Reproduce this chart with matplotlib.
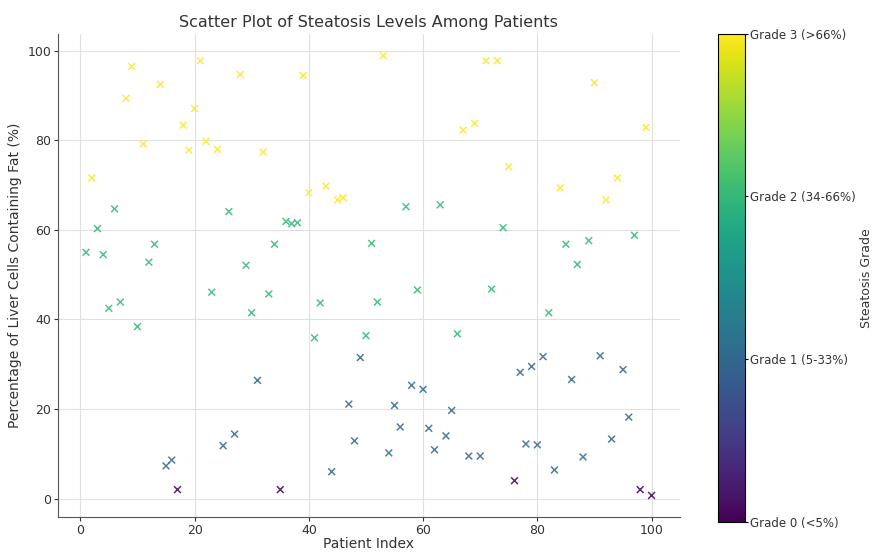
import numpy as np
import matplotlib
matplotlib.use('Agg')
import matplotlib.pyplot as plt

# Patient index 1..100 and fat percentage
patient_index = list(range(1, 101))
fat_percentage = [
    55.0, 71.6, 60.3, 54.5, 42.5, 64.7, 43.9, 89.4, 96.5, 38.4,
    79.2, 52.8, 56.8, 92.5, 7.3, 8.6, 2.0, 83.4, 77.8, 87.1,
    97.8, 79.8, 46.1, 78.0, 11.8, 64.1, 14.4, 94.7, 52.1, 41.5,
    26.4, 77.4, 45.7, 56.8, 2.0, 61.9, 61.4, 61.6, 94.5, 68.3,
    35.9, 43.7, 69.8, 6.0, 66.7, 67.2, 21.1, 12.9, 31.5, 36.4,
    57.0, 43.9, 98.9, 10.2, 20.8, 16.0, 65.2, 25.3, 46.6, 24.4,
    15.7, 10.9, 65.6, 14.0, 19.7, 36.8, 82.3, 9.5, 83.8, 9.5,
    97.8, 46.8, 97.8, 60.5, 74.1, 4.0, 28.2, 12.2, 29.5, 12.0,
    31.7, 41.5, 6.4, 69.4, 56.8, 26.6, 52.3, 9.3, 57.6, 92.9,
    31.9, 66.7, 13.3, 71.6, 28.8, 18.2, 58.8, 2.0, 82.9, 0.7,
]
grade_labels = ['Grade 0 (<5%)', 'Grade 1 (5-33%)', 'Grade 2 (34-66%)', 'Grade 3 (>66%)']

# Grade for each patient
grades = []
for v in fat_percentage:
    if v < 5:
        grades.append(0)
    elif v <= 33:
        grades.append(1)
    elif v <= 66:
        grades.append(2)
    else:
        grades.append(3)

text_col = '#333333'
plt.rcParams['font.size'] = 9

fig = plt.figure(figsize=(8.75, 5.54), dpi=100)
ax = fig.add_axes([0.066, 0.066, 0.711, 0.873])
cax = fig.add_axes([0.821, 0.058, 0.030, 0.881])

sc = ax.scatter(patient_index, fat_percentage, c=grades, cmap='viridis',
                vmin=0, vmax=3, marker='x', s=24, linewidths=1.1, alpha=0.85)
ax.grid(True, color='#e0e0e0', linewidth=0.8)
ax.set_axisbelow(True)
ax.spines['top'].set_visible(False)
ax.spines['right'].set_visible(False)
ax.spines['left'].set_color('#555555')
ax.spines['bottom'].set_color('#555555')
ax.tick_params(colors=text_col, length=3, pad=1.5, labelsize=9)
ax.set_title('Scatter Plot of Steatosis Levels Among Patients', fontsize=11.5, color=text_col, pad=5)
ax.set_xlabel('Patient Index', color=text_col, fontsize=10, labelpad=0)
ax.set_ylabel('Percentage of Liver Cells Containing Fat (%)', color=text_col, fontsize=10, labelpad=4)

cbar = fig.colorbar(sc, cax=cax, ticks=[0, 1, 2, 3])
cbar.solids.set_alpha(1)
cbar.ax.set_yticklabels(grade_labels, color=text_col, fontsize=8.5)
cbar.ax.tick_params(length=2, pad=2)
cbar.set_label('Steatosis Grade', color=text_col, fontsize=9, labelpad=3)

plt.savefig('out.png', dpi=100)
